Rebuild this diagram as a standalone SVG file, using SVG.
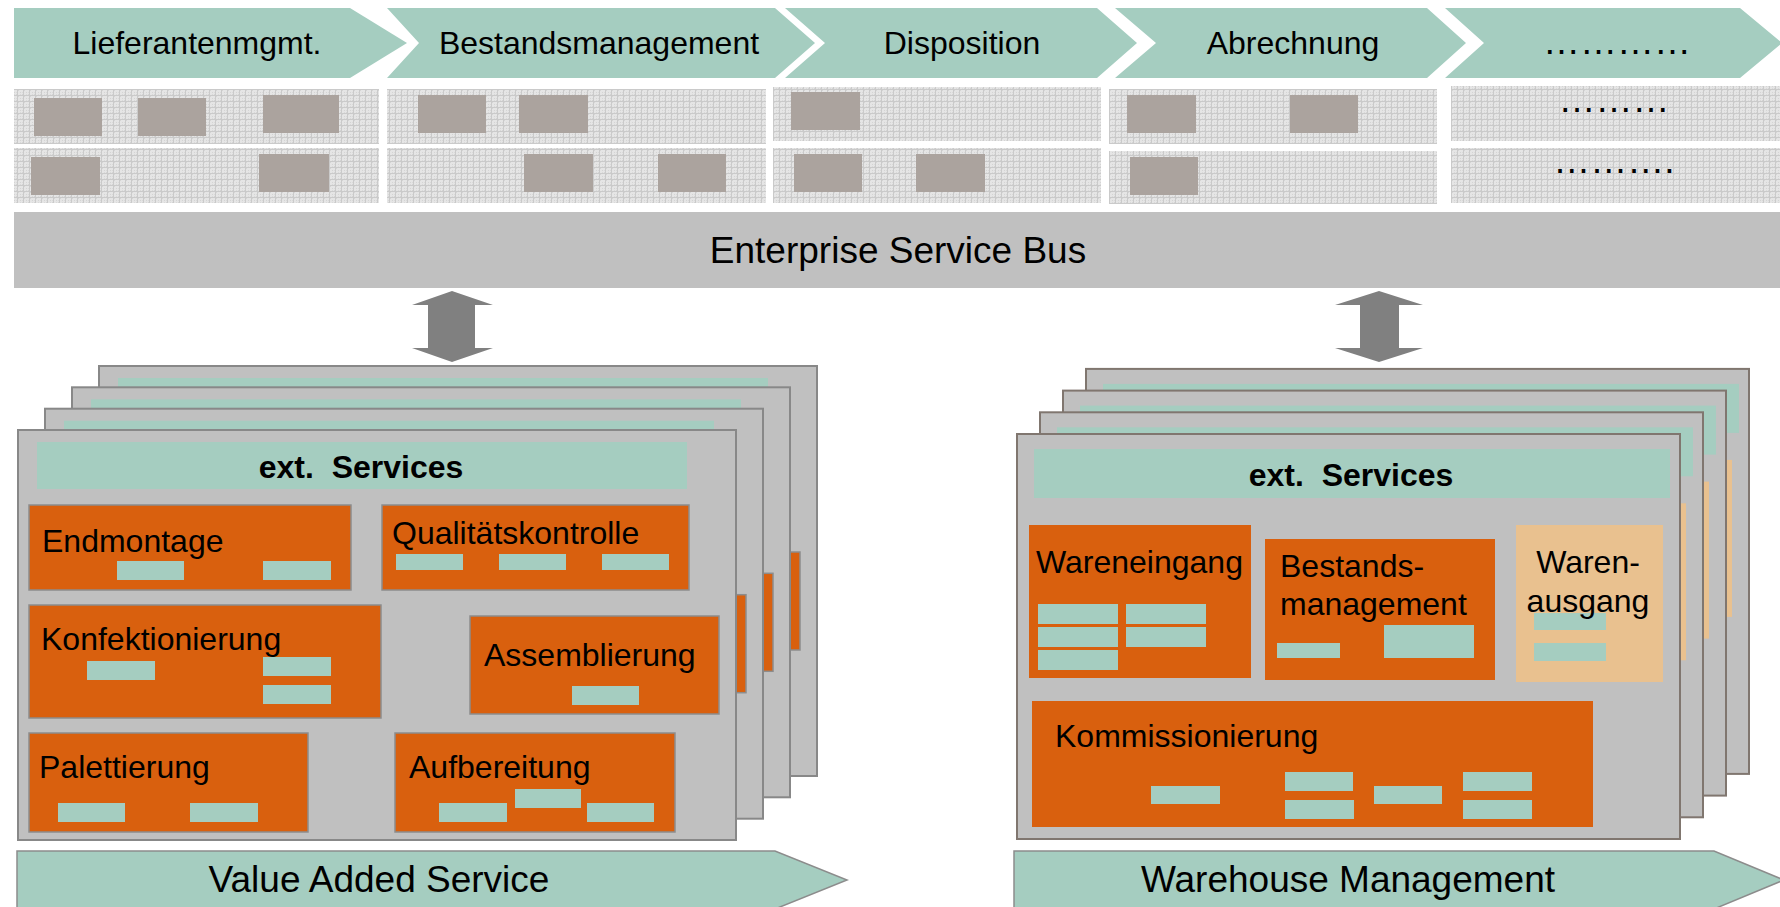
<svg xmlns="http://www.w3.org/2000/svg" width="1780" height="907" viewBox="0 0 1780 907">
<defs>
<style>
text { font-family: "Liberation Sans", Arial, Helvetica, sans-serif; fill: #000000; }
.lbl { font-size: 32px; }
.big { font-size: 37px; }
.bold { font-size: 32px; font-weight: bold; }
.dots { font-size: 37px; }
.step { fill: #a5cdc0; }
.panel { fill: url(#grid); }
.gbox { fill: #aba39e; }
.esb { fill: #c0c0c0; }
.card { fill: #c0c0c0; stroke: #888888; stroke-width: 2; }
.cardR { fill: #c0c0c0; stroke: #80766f; stroke-width: 2; }
.teal { fill: #a5cdc0; }
.org { fill: #d9600e; stroke: #8c8c8c; stroke-width: 1.5; }
.orgR { fill: #d9600e; }
.lorg { fill: #e9c18f; }
.arrow { fill: #808080; }
.base { fill: #a5cdc0; stroke: #8c8c8c; stroke-width: 1.5; }
</style>
<pattern id="grid" width="6" height="6" patternUnits="userSpaceOnUse">
<rect width="6" height="6" fill="#e5e5e5"/>
<rect x="0" y="0" width="1" height="1" fill="#d4d4d4"/>
<rect x="2" y="2" width="1" height="1" fill="#d4d4d4"/>
<rect x="4" y="4" width="1" height="1" fill="#d4d4d4"/>
<rect x="2" y="4" width="1" height="1" fill="#d9d9d9"/>
<rect x="4" y="2" width="1" height="1" fill="#d9d9d9"/>
<path d="M0 5.5H6M5.5 0V6" stroke="#cacaca" stroke-width="1"/>
</pattern>
</defs>

<rect width="1780" height="907" fill="#ffffff"/>

<g id="process-steps">
<g id="step-lieferantenmgmt">
<polygon class="step" points="14,8 350,8 407,43 350,78 14,78"/>
<text class="lbl" x="197" y="54" text-anchor="middle">Lieferantenmgmt.</text>
</g>
<g id="step-bestandsmanagement">
<polygon class="step" points="387,8 775,8 815,43 775,78 387,78 419,43"/>
<text class="lbl" x="599" y="54" text-anchor="middle">Bestandsmanagement</text>
</g>
<g id="step-disposition">
<polygon class="step" points="785,8 1097,8 1137,43 1097,78 785,78 825,43"/>
<text class="lbl" x="962" y="54" text-anchor="middle">Disposition</text>
</g>
<g id="step-abrechnung">
<polygon class="step" points="1115,8 1427,8 1466,43 1427,78 1115,78 1156,43"/>
<text class="lbl" x="1293" y="54" text-anchor="middle">Abrechnung</text>
</g>
<g id="step-more">
<polygon class="step" points="1445,8 1740,8 1782,43 1740,78 1445,78 1484,43"/>
<text class="dots" x="1617" y="54" text-anchor="middle">…………</text>
</g>
</g>

<g id="panels">
<g id="panel-1">
<rect class="panel" x="14" y="89" width="365" height="55"/>
<rect class="panel" x="14" y="148" width="365" height="55"/>
<rect class="gbox" x="34" y="98" width="68" height="38"/>
<rect class="gbox" x="138" y="98" width="68" height="38"/>
<rect class="gbox" x="263" y="95" width="76" height="38"/>
<rect class="gbox" x="31" y="157" width="69" height="38"/>
<rect class="gbox" x="259" y="154" width="70" height="38"/>
</g>
<g id="panel-2">
<rect class="panel" x="387" y="89" width="379" height="55"/>
<rect class="panel" x="387" y="148" width="379" height="55"/>
<rect class="gbox" x="418" y="95" width="68" height="38"/>
<rect class="gbox" x="519" y="95" width="69" height="38"/>
<rect class="gbox" x="524" y="154" width="69" height="38"/>
<rect class="gbox" x="658" y="154" width="68" height="38"/>
</g>
<g id="panel-3">
<rect class="panel" x="773" y="87" width="328" height="54"/>
<rect class="panel" x="773" y="148" width="328" height="55"/>
<rect class="gbox" x="791" y="92" width="69" height="38"/>
<rect class="gbox" x="794" y="154" width="68" height="38"/>
<rect class="gbox" x="916" y="154" width="69" height="38"/>
</g>
<g id="panel-4">
<rect class="panel" x="1109" y="89" width="328" height="55"/>
<rect class="panel" x="1109" y="151" width="328" height="53"/>
<rect class="gbox" x="1127" y="95" width="69" height="38"/>
<rect class="gbox" x="1290" y="95" width="68" height="38"/>
<rect class="gbox" x="1130" y="157" width="68" height="38"/>
</g>
<g id="panel-5">
<rect class="panel" x="1451" y="86" width="329" height="55"/>
<rect class="panel" x="1451" y="148" width="329" height="55"/>
<text class="dots" x="1614" y="112" text-anchor="middle">………</text>
<text class="dots" x="1614" y="173" text-anchor="middle">……….</text>
</g>
</g>

<g id="esb">
<rect class="esb" x="14" y="212" width="1766" height="76"/>
<text class="big" x="898" y="263" text-anchor="middle">Enterprise Service Bus</text>
</g>

<g id="connectors">
<polygon id="arrow-vas" class="arrow" points="452,291 493,305 475,305 475,348 493,348 452,362 412,348 428,348 428,305 412,305"/>
<polygon id="arrow-wms" class="arrow" points="1379,291 1423,305 1399,305 1399,348 1423,348 1379,362 1335,348 1360,348 1360,305 1335,305"/>
</g>

<g id="vas-system">
<g id="vas-card-4">
<rect class="card" x="99" y="366" width="718" height="410"/>
<rect class="teal" x="118" y="378" width="650" height="47"/>
<rect class="org" x="551" y="552" width="249" height="98"/>
</g>
<g id="vas-card-3">
<rect class="card" x="72" y="387.3" width="718" height="410"/>
<rect class="teal" x="91" y="399.3" width="650" height="47"/>
<rect class="org" x="524" y="573.3" width="249" height="98"/>
</g>
<g id="vas-card-2">
<rect class="card" x="45" y="408.7" width="718" height="410"/>
<rect class="teal" x="64" y="420.7" width="650" height="47"/>
<rect class="org" x="497" y="594.7" width="249" height="98"/>
</g>
<g id="vas-card-1">
<rect class="card" x="18" y="430" width="718" height="410"/>
<g id="vas-ext-services">
<rect class="teal" x="37" y="442" width="650" height="47"/>
<text class="bold" x="361" y="478" text-anchor="middle" xml:space="preserve">ext.  Services</text>
</g>
<g id="vas-endmontage">
<rect class="org" x="29" y="505" width="322" height="85"/>
<text class="lbl" x="42" y="552">Endmontage</text>
<rect class="teal" x="117" y="561" width="67" height="19"/>
<rect class="teal" x="263" y="561" width="68" height="19"/>
</g>
<g id="vas-qualitaetskontrolle">
<rect class="org" x="382" y="505" width="307" height="85"/>
<text class="lbl" x="392" y="544">Qualitätskontrolle</text>
<rect class="teal" x="396" y="554" width="67" height="16"/>
<rect class="teal" x="499" y="554" width="67" height="16"/>
<rect class="teal" x="602" y="554" width="67" height="16"/>
</g>
<g id="vas-konfektionierung">
<rect class="org" x="29" y="605" width="352" height="113"/>
<text class="lbl" x="41" y="650">Konfektionierung</text>
<rect class="teal" x="87" y="661" width="68" height="19"/>
<rect class="teal" x="263" y="657" width="68" height="19"/>
<rect class="teal" x="263" y="685" width="68" height="19"/>
</g>
<g id="vas-assemblierung">
<rect class="org" x="470" y="616" width="249" height="98"/>
<text class="lbl" x="484" y="666">Assemblierung</text>
<rect class="teal" x="572" y="686" width="67" height="19"/>
</g>
<g id="vas-palettierung">
<rect class="org" x="29" y="733" width="279" height="99"/>
<text class="lbl" x="39" y="778">Palettierung</text>
<rect class="teal" x="58" y="803" width="67" height="19"/>
<rect class="teal" x="190" y="803" width="68" height="19"/>
</g>
<g id="vas-aufbereitung">
<rect class="org" x="395" y="733" width="280" height="99"/>
<text class="lbl" x="409" y="778">Aufbereitung</text>
<rect class="teal" x="439" y="803" width="68" height="19"/>
<rect class="teal" x="515" y="789" width="66" height="19"/>
<rect class="teal" x="587" y="803" width="67" height="19"/>
</g>
</g>
<g id="vas-label">
<polygon class="base" points="17,851 775,851 847,880 775,909 17,909"/>
<text class="big" x="379" y="892" text-anchor="middle">Value Added Service</text>
</g>
</g>

<g id="wms-system">
<g id="wms-card-4">
<rect class="cardR" x="1086" y="368.9" width="663" height="405"/>
<rect class="teal" x="1103" y="383.9" width="636" height="49"/>
<rect class="lorg" x="1585" y="459.9" width="147" height="157"/>
</g>
<g id="wms-card-3">
<rect class="cardR" x="1063" y="390.6" width="663" height="405"/>
<rect class="teal" x="1080" y="405.6" width="636" height="49"/>
<rect class="lorg" x="1562" y="481.6" width="147" height="157"/>
</g>
<g id="wms-card-2">
<rect class="cardR" x="1040" y="412.3" width="663" height="405"/>
<rect class="teal" x="1057" y="427.3" width="636" height="49"/>
<rect class="lorg" x="1539" y="503.3" width="147" height="157"/>
</g>
<g id="wms-card-1">
<rect class="cardR" x="1017" y="434" width="663" height="405"/>
<g id="wms-ext-services">
<rect class="teal" x="1034" y="449" width="636" height="49"/>
<text class="bold" x="1351" y="486" text-anchor="middle" xml:space="preserve">ext.  Services</text>
</g>
<g id="wms-wareneingang">
<rect class="orgR" x="1029" y="525" width="222" height="153"/>
<text class="lbl" x="1036" y="573">Wareneingang</text>
<rect class="teal" x="1038" y="604" width="80" height="20"/>
<rect class="teal" x="1126" y="604" width="80" height="20"/>
<rect class="teal" x="1038" y="627" width="80" height="20"/>
<rect class="teal" x="1126" y="627" width="80" height="20"/>
<rect class="teal" x="1038" y="650" width="80" height="20"/>
</g>
<g id="wms-bestandsmanagement">
<rect class="orgR" x="1265" y="539" width="230" height="141"/>
<text class="lbl" x="1280" y="577">Bestands-</text>
<text class="lbl" x="1280" y="615">management</text>
<rect class="teal" x="1277" y="643" width="63" height="15"/>
<rect class="teal" x="1384" y="625" width="90" height="33"/>
</g>
<g id="wms-warenausgang">
<rect class="lorg" x="1516" y="525" width="147" height="157"/>
<rect class="teal" x="1534" y="613" width="72" height="17"/>
<rect class="teal" x="1534" y="643" width="72" height="18"/>
<text class="lbl" x="1588" y="573" text-anchor="middle">Waren-</text>
<text class="lbl" x="1588" y="612" text-anchor="middle">ausgang</text>
</g>
<g id="wms-kommissionierung">
<rect class="orgR" x="1032" y="701" width="561" height="126"/>
<text class="lbl" x="1055" y="747">Kommissionierung</text>
<rect class="teal" x="1151" y="786" width="69" height="18"/>
<rect class="teal" x="1285" y="772" width="68" height="19"/>
<rect class="teal" x="1285" y="800" width="69" height="19"/>
<rect class="teal" x="1374" y="786" width="68" height="18"/>
<rect class="teal" x="1463" y="772" width="69" height="19"/>
<rect class="teal" x="1463" y="800" width="69" height="19"/>
</g>
</g>
<g id="wms-label">
<polygon class="base" points="1014,851 1714,851 1784,880 1714,909 1014,909"/>
<text class="big" x="1348" y="892" text-anchor="middle">Warehouse Management</text>
</g>
</g>
</svg>
